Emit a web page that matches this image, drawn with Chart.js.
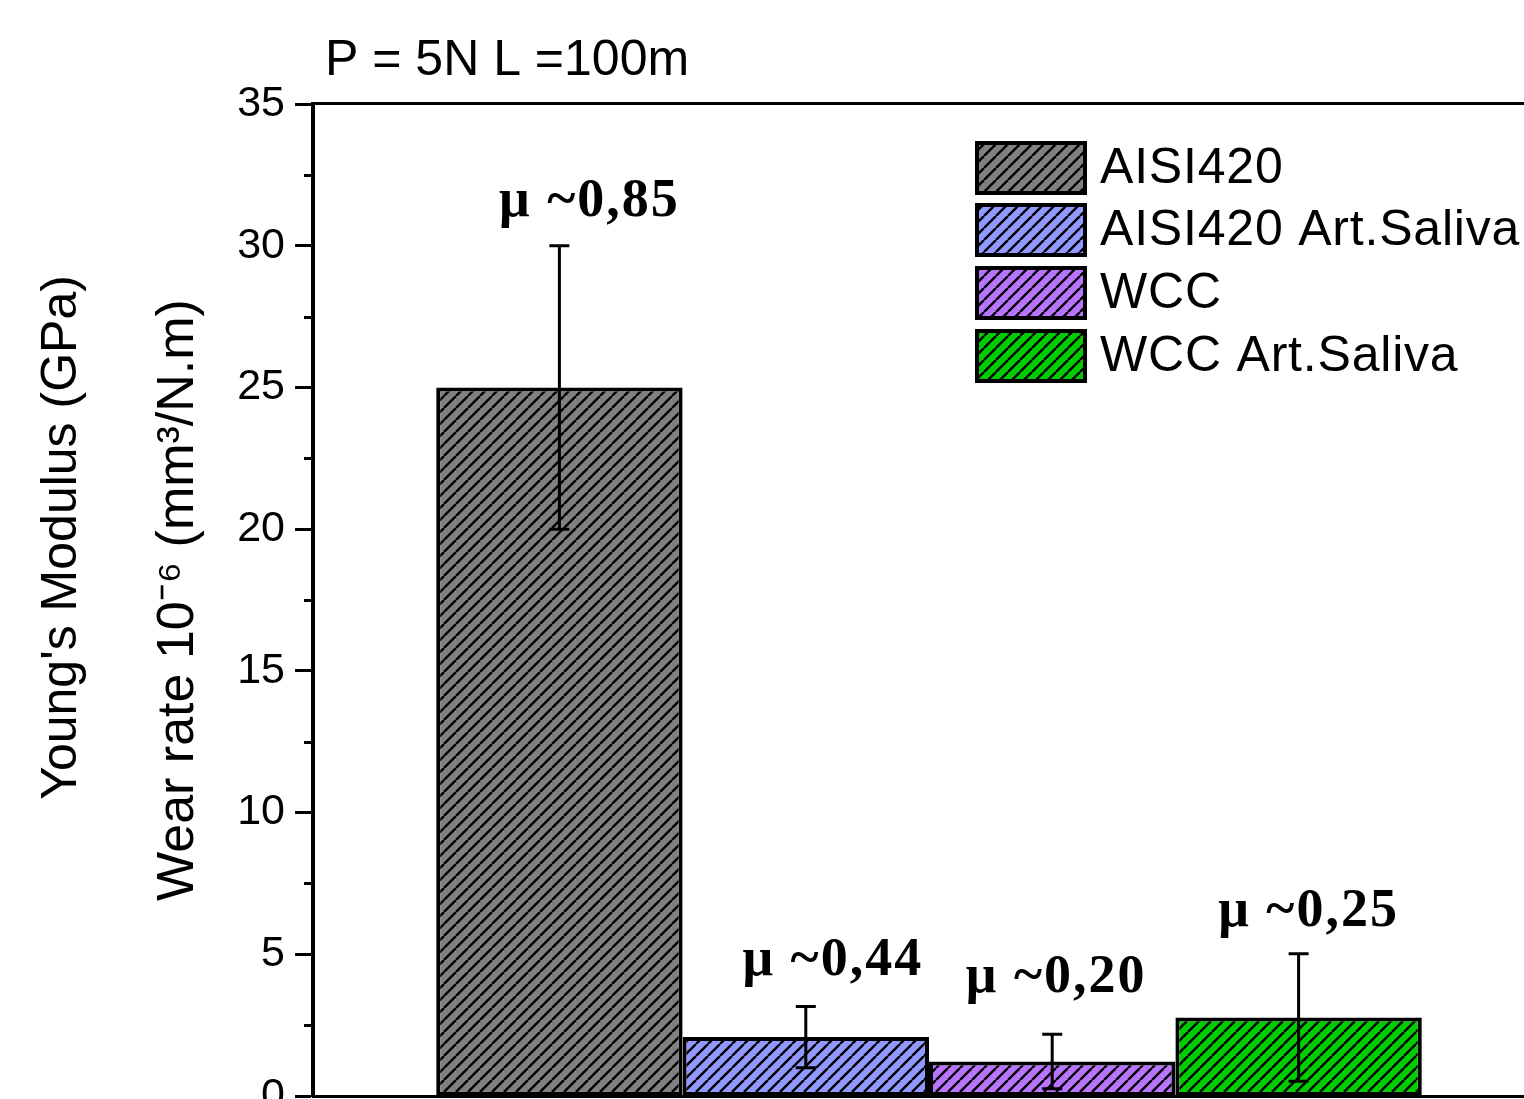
<!DOCTYPE html>
<html>
<head>
<meta charset="utf-8">
<script src="https://cdn.jsdelivr.net/npm/chart.js@4.4.1/dist/chart.umd.min.js"></script>
<style>
  html, body { margin: 0; padding: 0; background: #ffffff; overflow: hidden; }
  #wrap { width: 1548px; height: 1140px; }
</style>
</head>
<body>
<div id="wrap"><canvas id="c" width="1548" height="1140"></canvas></div>
<script>
// ---------- data ----------
const categories = [''];
const seriesNames = ['AISI420', 'AISI420 Art.Saliva', 'WCC', 'WCC Art.Saliva'];
const wearRate = [25.0, 2.08, 1.22, 2.77];
const wearError = [5.0, 1.08, 0.96, 2.25];
const frictionLabels = ['μ ~0,85', 'μ ~0,44', 'μ ~0,20', 'μ ~0,25'];
const yTickValues = [0, 5, 10, 15, 20, 25, 30, 35];
const chartTitle = 'P = 5N L =100m';
const yTitleOuter = "Young's Modulus (GPa)";
const yTitleInner = 'Wear rate 10⁻⁶ (mm³/N.m)';

// ---------- styles / layout ----------
const seriesColors = ['#808080', '#9198ff', '#b973ff', '#00cc00'];
const muOffsetX = [30, 27, 4, 10];
const muOffsetY = [30, 31, 42, 28];

const canvas = document.getElementById('c');
const mainCtx = canvas.getContext('2d');

function hatch(color) {
  const s = 12;
  const t = document.createElement('canvas');
  t.width = s; t.height = s;
  const g = t.getContext('2d');
  g.fillStyle = color;
  g.fillRect(0, 0, s, s);
  g.strokeStyle = '#000';
  g.lineWidth = 2.4;
  g.beginPath();
  for (const k of [-s, 0, s]) { g.moveTo(k, s); g.lineTo(k + s, 0); }
  g.stroke();
  return mainCtx.createPattern(t, 'repeat');
}
const patterns = seriesColors.map(hatch);

const datasets = seriesNames.map((name, i) => ({
  label: name,
  data: [wearRate[i]],
  backgroundColor: patterns[i],
  borderColor: '#000',
  borderWidth: 4,
  borderSkipped: false,
  barPercentage: 1.0,
  categoryPercentage: 0.8
}));

const decorations = {
  id: 'decorations',
  afterDatasetsDraw(chart) {
    const ctx = chart.ctx;
    const y = chart.scales.y;
    ctx.save();
    chart.data.datasets.forEach((ds, i) => {
      const bar = chart.getDatasetMeta(i).data[0];
      const v = ds.data[0], e = wearError[i];
      const yt = y.getPixelForValue(v + e);
      const yb = y.getPixelForValue(Math.max(0, v - e));
      ctx.strokeStyle = '#000';
      ctx.lineWidth = 3;
      ctx.beginPath();
      ctx.moveTo(bar.x, yt); ctx.lineTo(bar.x, yb);
      ctx.moveTo(bar.x - 10, yt); ctx.lineTo(bar.x + 10, yt);
      ctx.moveTo(bar.x - 10, yb); ctx.lineTo(bar.x + 10, yb);
      ctx.stroke();
      ctx.font = 'bold 54px "Liberation Serif"';
      ctx.letterSpacing = '2px';
      ctx.textAlign = 'center';
      ctx.textBaseline = 'alphabetic';
      ctx.fillStyle = '#000';
      ctx.fillText(frictionLabels[i], bar.x + muOffsetX[i], yt - muOffsetY[i]);
    });
    ctx.restore();
  },
  afterDraw(chart) {
    const ctx = chart.ctx;
    const a = chart.chartArea;
    const y = chart.scales.y;
    ctx.save();
    // top frame line
    ctx.strokeStyle = '#000';
    ctx.lineWidth = 3;
    ctx.beginPath();
    ctx.moveTo(a.left, a.top - 0.5);
    ctx.lineTo(chart.width, a.top - 0.5);
    ctx.stroke();
    // minor ticks
    ctx.lineWidth = 3;
    ctx.beginPath();
    for (let k = 0; k < yTickValues.length - 1; k++) {
      const mid = (yTickValues[k] + yTickValues[k + 1]) / 2;
      const py = Math.round(y.getPixelForValue(mid)) + 0.5;
      ctx.moveTo(a.left - 9, py);
      ctx.lineTo(a.left, py);
    }
    ctx.stroke();
    // title
    ctx.fillStyle = '#000';
    ctx.font = '50px "Liberation Sans"';
    ctx.textAlign = 'left';
    ctx.textBaseline = 'alphabetic';
    ctx.fillText(chartTitle, 325, 75);
    // legend
    const boxX = 975, boxW = 112, boxH = 54;
    const tops = [141, 203, 266, 329];
    chart.data.datasets.forEach((ds, i) => {
      const top = tops[i];
      ctx.fillStyle = ds.backgroundColor;
      ctx.fillRect(boxX, top, boxW, boxH);
      ctx.strokeStyle = '#000';
      ctx.lineWidth = 4;
      ctx.strokeRect(boxX + 2, top + 2, boxW - 4, boxH - 4);
      ctx.fillStyle = '#000';
      ctx.font = '50px "Liberation Sans"';
      ctx.letterSpacing = '0.8px';
      ctx.textBaseline = 'middle';
      ctx.fillText(ds.label, 1100, top + boxH / 2 + 1);
    });
    ctx.restore();
  }
};

new Chart(canvas, {
  type: 'bar',
  data: { labels: categories, datasets },
  options: {
    responsive: false,
    animation: false,
    layout: { padding: { top: 104, left: 0, right: 3, bottom: 0 } },
    plugins: {
      legend: { display: false },
      tooltip: { enabled: false },
      title: { display: false }
    },
    scales: {
      x: {
        type: 'category',
        position: 'bottom',
        offset: true,
        ticks: { display: false },
        grid: { display: false, drawTicks: false },
        border: { display: true, color: '#000', width: 3 },
        afterFit: (s) => { s.height = 44; }
      },
      yT: {
        type: 'linear',
        position: 'left',
        weight: 5,
        min: 0, max: 35,
        ticks: { display: false },
        grid: { display: false, drawTicks: false },
        border: { display: false },
        title: {
          display: true,
          text: '         ' + yTitleOuter,
          color: '#000',
          font: { family: '"Liberation Sans"', size: 50 },
          padding: { top: 32, bottom: 0 }
        },
        afterFit: (s) => { s.width = 100; }
      },
      y: {
        type: 'linear',
        position: 'left',
        weight: 0,
        min: 0, max: 35,
        ticks: {
          stepSize: 5,
          color: '#000',
          padding: 10,
          font: { family: '"Liberation Sans"', size: 43 },
          callback: (v) => yTickValues.includes(v) ? String(v) : ''
        },
        grid: {
          drawOnChartArea: false,
          drawTicks: true,
          tickLength: 18,
          tickWidth: 3,
          tickColor: '#000'
        },
        border: { display: true, color: '#000', width: 4 },
        title: {
          display: true,
          text: yTitleInner,
          color: '#000',
          font: { family: '"Liberation Sans"', size: 52 },
          padding: { top: 47, bottom: 0 }
        },
        afterFit: (s) => { s.width = 213; }
      }
    }
  },
  plugins: [decorations]
});
</script>
</body>
</html>
